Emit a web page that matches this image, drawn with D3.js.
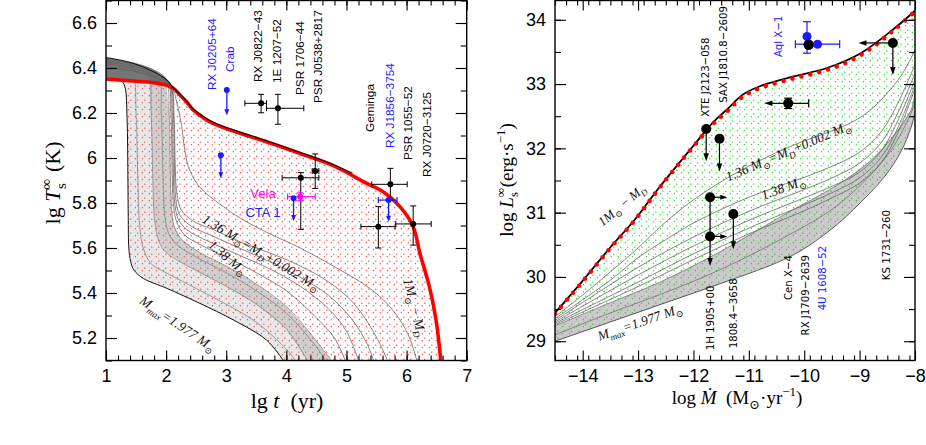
<!DOCTYPE html>
<html>
<head>
<meta charset="utf-8">
<script src="https://cdn.jsdelivr.net/npm/d3@7"></script>
<style>
  body { margin: 0; background: #fff; }
  svg { display: block; }
</style>
</head>
<body>
<svg id="fig" width="926" height="445"></svg>
<script>
// ---------------- Left panel: cooling curves (lg t, lg Ts) ----------------
const redL = [[1.0,6.351],[1.45,6.342],[1.78,6.335],[2.0,6.324],[2.12,6.31],[2.23,6.28],[2.34,6.25],[2.45,6.213],
  [2.56,6.191],[2.67,6.169],[2.84,6.147],[3.12,6.12],[3.67,6.072],[4.22,6.021],[4.78,5.966],[5.33,5.888],
  [5.61,5.85],[5.89,5.784],[6.11,5.695],[6.22,5.578],[6.38,5.427],[6.49,5.28],[6.57,5.10]];
const topEnvL = [[1.0,6.447],[1.45,6.421],[1.79,6.384],[2.01,6.347],[2.12,6.313],[2.3,6.265],[2.45,6.218],
  [2.6,6.188],[2.84,6.152],[3.12,6.125],[3.67,6.077],[4.22,6.026],[4.78,5.971],[5.1,5.932]];
const mmaxL = [[1,6.352],[1.2,6.352],[1.27,6.34],[1.32,6.31],[1.35,6.18],[1.365,5.89],[1.37,5.74],[1.38,5.60],
  [1.41,5.54],[1.47,5.50],[1.62,5.465],[2.01,5.421],[2.56,5.354],[3.12,5.28],[3.67,5.191],[3.95,5.10]];
const b2L = [[1,6.40],[1.3,6.39],[1.45,6.36],[1.5,6.2],[1.53,5.9],[1.56,5.70],[1.62,5.60],[1.75,5.53],[2.0,5.49],
  [2.5,5.42],[3.0,5.35],[3.5,5.27],[4.0,5.15],[4.15,5.10]];
const b3L = [[1,6.42],[1.5,6.40],[1.7,6.37],[1.75,6.2],[1.78,5.9],[1.81,5.72],[1.88,5.63],[2.0,5.58],[2.5,5.50],
  [3.0,5.43],[3.5,5.35],[4.0,5.24],[4.35,5.10]];
const b4L = [[1,6.43],[1.6,6.41],[1.87,6.37],[1.92,6.2],[1.95,5.9],[1.98,5.74],[2.05,5.66],[2.2,5.61],[2.5,5.56],
  [3.0,5.49],[3.5,5.41],[4.0,5.31],[4.5,5.16],[4.65,5.10]];
const bundleRL = [[1,6.44],[1.5,6.42],[1.8,6.39],[2.0,6.35],[2.05,6.2],[2.07,5.95],[2.09,5.78],[2.13,5.70],
  [2.25,5.64],[2.56,5.58],[3.0,5.52],[3.5,5.44],[4.0,5.34],[4.4,5.22],[4.75,5.10]];
const l5L = [[1,6.44],[1.8,6.39],[2.03,6.34],[2.08,6.2],[2.1,5.95],[2.12,5.80],[2.17,5.72],[2.3,5.66],[2.6,5.61],
  [3.0,5.56],[3.5,5.49],[4.0,5.41],[4.5,5.29],[4.8,5.2],[4.98,5.10]];
const l4L = [[1,6.43],[1.8,6.38],[2.05,6.33],[2.1,6.2],[2.12,5.95],[2.14,5.81],[2.2,5.73],[2.35,5.68],[2.7,5.63],
  [3.2,5.57],[3.7,5.51],[4.23,5.43],[4.7,5.33],[5.0,5.23],[5.2,5.10]];
const l3L = [[1,6.42],[1.8,6.37],[2.07,6.32],[2.12,6.2],[2.14,5.95],[2.16,5.82],[2.22,5.75],[2.4,5.70],[2.8,5.65],
  [3.3,5.59],[3.8,5.53],[4.23,5.47],[4.7,5.39],[5.1,5.28],[5.35,5.17],[5.45,5.10]];
const c138L = [[1,6.41],[1.8,6.36],[2.08,6.31],[2.13,6.2],[2.15,5.98],[2.18,5.84],[2.25,5.77],[2.45,5.72],
  [2.8,5.68],[3.3,5.62],[3.8,5.57],[4.23,5.52],[4.7,5.45],[5.1,5.36],[5.4,5.25],[5.6,5.15],[5.68,5.10]];
const c136L = [[1,6.40],[1.5,6.385],[1.8,6.36],[2.0,6.335],[2.12,6.30],[2.18,6.243],[2.26,6.139],[2.31,6.036],
  [2.37,5.961],[2.51,5.888],[2.68,5.84],[2.95,5.784],[3.25,5.73],[3.67,5.67],[4.23,5.60],[4.78,5.52],
  [5.34,5.43],[5.65,5.36],[5.89,5.28],[6.05,5.2],[6.17,5.1]];

// observed sources: [lg t, lo, hi, lg T, lo, hi]
const blackL = [[3.58,3.31,3.67,6.243,6.201,6.283],[3.86,3.67,4.29,6.221,6.150,6.283],
  [4.24,3.93,4.54,5.912,5.683,5.935],[4.48,4.43,4.54,5.942,5.865,6.018],[5.73,5.42,6.01,5.883,5.813,5.954],
  [5.53,5.24,5.81,5.695,5.600,5.784],[6.11,5.82,6.41,5.707,5.613,5.787]];
// upper limits: [lg t, lg T, arrow end]
const limitsL = [[3.01,6.302,6.19],[2.91,6.012,5.91],[4.12,5.821,5.72]];
const rxj1856 = [5.70,5.53,5.84,5.813,5.717];
const velaPt = [4.23,4.02,4.48,5.828,5.81,5.845];

const srcNamesL = ["RX J0205+64","Crab","RX J0822\u221243","1E 1207\u221252","PSR 1706\u221244","PSR J0538+2817",
  "Geminga","RX J1856\u22123754","PSR 1055\u221252","RX J0720\u22123125"];

// ---------------- Right panel: heating curves (log Mdot, log Ls) ----------------
const topR = [[-14.5,29.43],[-13.99,29.94],[-13.51,30.44],[-13.08,30.86],[-12.6,31.40],[-12.0,32.03],[-11.64,32.39],
  [-11.4,32.57],[-11.1,32.81],[-10.79,32.94],[-10.19,33.09],[-9.59,33.22],[-8.98,33.45],[-8.38,33.84],[-8.0,34.13]];
const upperR = [[-14.5,29.44],[-13.99,29.95],[-13.51,30.45],[-13.08,30.87],[-12.6,31.41],[-12.0,32.04],
  [-11.64,32.41],[-11.4,32.6],[-11.1,32.84],[-10.79,32.97],[-10.19,33.12],[-9.59,33.25],[-8.98,33.48],
  [-8.38,33.86],[-8.0,34.14]];
const c136R = [[-14.5,29.38],[-14,29.72],[-13.5,30.08],[-13,30.45],[-12.6,30.78],[-12,31.2],[-11.1,31.68],
  [-10.19,32.05],[-9.2,32.38],[-8.8,32.6],[-8.44,32.92],[-8.2,33.2],[-8,33.53]];
const c138R = [[-14.5,29.35],[-13.5,29.95],[-13,30.3],[-12.5,30.58],[-12,30.84],[-11.5,31.05],[-11,31.24],
  [-10.5,31.4],[-10,31.55],[-9.5,31.72],[-9,31.94],[-8.6,32.27],[-8.3,32.72],[-8,33.3]];
const l3R = [[-14.5,29.32],[-13,30.15],[-12,30.62],[-11,31.02],[-10,31.36],[-9.5,31.54],[-9,31.77],[-8.6,32.1],
  [-8.3,32.57],[-8,33.17]];
const l4R = [[-14.5,29.3],[-13,30.03],[-12,30.48],[-11,30.88],[-10,31.23],[-9.5,31.41],[-9,31.63],[-8.6,31.97],
  [-8.3,32.45],[-8,33.07]];
const l5R = [[-14.5,29.28],[-13,29.92],[-12,30.36],[-11,30.76],[-10,31.12],[-9.5,31.31],[-9,31.54],[-8.6,31.87],
  [-8.3,32.34],[-8,32.99]];
const l6R = [[-14.5,29.26],[-13,29.85],[-12,30.27],[-11,30.67],[-10,31.03],[-9.5,31.23],[-9,31.46],[-8.6,31.79],
  [-8.3,32.26],[-8,32.93]];
const bundleTopR = [[-14.5,29.24],[-13.5,29.6],[-12.6,29.92],[-11.5,30.4],[-10.34,30.98],[-9.42,31.42],
  [-8.81,31.8],[-8.38,32.2],[-8.07,32.6],[-8.0,32.85]];
const bundleMidR = [[-14.5,29.1],[-13.5,29.44],[-12.5,29.76],[-11.5,30.12],[-10.5,30.55],[-9.5,31.05],
  [-8.9,31.5],[-8.45,31.95],[-8.15,32.4],[-8.0,32.7]];
const mmaxR = [[-14.5,29.0],[-13.5,29.3],[-12.5,29.6],[-11.5,29.9],[-10.5,30.22],[-10.04,30.42],[-9.5,30.75],
  [-9.11,31.05],[-8.56,31.55],[-8.26,31.94],[-8.07,32.33],[-8.0,32.55]];

// transients: black points [log Mdot, log L]
const blackR = [[-9.92,33.61],[-8.40,33.64],[-10.29,32.70],[-11.77,32.30],[-11.53,32.15],[-11.70,31.24],
  [-11.70,30.63],[-11.28,30.98]];
const downArrowsR = [[-8.40,33.64,33.14],[-11.77,32.30,31.80],[-11.53,32.15,31.64],[-11.70,30.63,30.17],
  [-11.28,30.98,30.43]];
const leftArrowsR = [[-8.40,33.64,-9.02],[-10.29,32.70,-10.72]];
const rightArrowsR = [[-11.70,31.24,-11.39],[-11.70,30.63,-11.39]];
const aqlBlue = [[-9.95,33.74,33.48,33.97],[-9.76,33.62,-10.16,-9.36]];
const srcNamesR = ["XTE J2123\u2212058","SAX J1810.8\u22122609","Aql X\u22121","1H 1905+00","1808.4\u22123658",
  "Cen X\u22124","RX J1709\u22122639","4U 1608\u221252","KS 1731\u2212260"];

// tick labels
const xTicksL = [1,2,3,4,5,6,7];
const yTicksL = [5.2,5.4,5.6,5.8,6,6.2,6.4,6.6];
const xTicksR = [-14,-13,-12,-11,-10,-9,-8];
const yTicksR = [29,30,31,32,33,34];

// ---------------- drawing ----------------
const svg = d3.select("#fig");
svg.append("rect").attr("width", 926).attr("height", 445).attr("fill", "#fff");
const defs = svg.append("defs");

const xL = d3.scaleLinear().domain([1, 7]).range([106, 466.7]);
const yL = d3.scaleLinear().domain([5.1, 6.7]).range([360.5, 0.5]);
const xR = d3.scaleLinear().domain([-14.5, -8]).range([555, 915]);
const yR = d3.scaleLinear().domain([28.7, 34.3]).range([360.5, 0.5]);

function clip(id, x, y) {
  defs.append("clipPath").attr("id", id).append("rect")
    .attr("x", x.range()[0]).attr("y", y.range()[1])
    .attr("width", x.range()[1] - x.range()[0]).attr("height", y.range()[0] - y.range()[1]);
}
clip("clipL", xL, yL);
clip("clipR", xR, yR);

// dotted diagonal hatch
function hatch(id, color) {
  const p = defs.append("pattern").attr("id", id).attr("patternUnits", "userSpaceOnUse")
    .attr("width", 7).attr("height", 7);
  p.append("path").attr("d", "M-0.5,7.5 L7.5,-0.5").attr("stroke", color)
    .attr("stroke-width", 1.2).attr("stroke-dasharray", "1.1,2.4").attr("fill", "none");
}
hatch("hatchRed", "#ff3b3b");
hatch("hatchGreen", "#1ed81e");

const lineFn = (x, y) => d3.line().x(d => x(d[0])).y(d => y(d[1])).curve(d3.curveCatmullRom.alpha(0.5));
const polyFn = (x, y) => d3.line().x(d => x(d[0])).y(d => y(d[1])).curve(d3.curveLinearClosed);

const gL = svg.append("g").attr("clip-path", "url(#clipL)");
const gR = svg.append("g").attr("clip-path", "url(#clipR)");
const lnL = lineFn(xL, yL), lnR = lineFn(xR, yR);

// left: hatch region between the 1 Msun - M_D curve and the M_max curve
gL.append("path").attr("d", polyFn(xL, yL)(redL.concat(mmaxL.slice().reverse())))
  .attr("fill", "url(#hatchRed)");
// dense bundle of cooling curves
gL.append("path").attr("d", polyFn(xL, yL)(mmaxL.concat(bundleRL.slice().reverse())))
  .attr("fill", "#8a8a8a").attr("fill-opacity", 0.2);
gL.append("path").attr("d", polyFn(xL, yL)(b3L.concat(bundleRL.slice().reverse())))
  .attr("fill", "#777").attr("fill-opacity", 0.22);
// top black bundle before the drop
gL.append("path").attr("d", polyFn(xL, yL)(topEnvL.filter(d => d[0] <= 2.12)
    .concat(redL.filter(d => d[0] <= 2.12).reverse())))
  .attr("fill", "#444").attr("fill-opacity", 0.7);

[b2L, b3L, b4L, bundleRL].forEach(c => gL.append("path").attr("d", lnL(c))
  .attr("fill", "none").attr("stroke", "#777").attr("stroke-width", 0.7));
[l5L, l4L, l3L, c138L, c136L].forEach(c => gL.append("path").attr("d", lnL(c))
  .attr("fill", "none").attr("stroke", "#666").attr("stroke-width", 0.8));
gL.append("path").attr("d", lnL(mmaxL)).attr("fill", "none").attr("stroke", "#111").attr("stroke-width", 1);
gL.append("path").attr("d", lnL(redL)).attr("fill", "none").attr("stroke", "#f00").attr("stroke-width", 3.6);
gL.append("path").attr("d", lnL(topEnvL)).attr("fill", "none").attr("stroke", "#111").attr("stroke-width", 1.1);

// right: hatch region and bundle
gR.append("path").attr("d", polyFn(xR, yR)(topR.concat(mmaxR.slice().reverse())))
  .attr("fill", "url(#hatchGreen)");
gR.append("path").attr("d", polyFn(xR, yR)(bundleTopR.concat(mmaxR.slice().reverse())))
  .attr("fill", "#7a7a7a").attr("fill-opacity", 0.4);
[bundleMidR, bundleTopR].forEach(c => gR.append("path").attr("d", lnR(c))
  .attr("fill", "none").attr("stroke", "#666").attr("stroke-width", 0.7));
[l6R, l5R, l4R, l3R, c138R, c136R].forEach(c => gR.append("path").attr("d", lnR(c))
  .attr("fill", "none").attr("stroke", "#666").attr("stroke-width", 0.8));
gR.append("path").attr("d", lnR(mmaxR)).attr("fill", "none").attr("stroke", "#444").attr("stroke-width", 0.9);
gR.append("path").attr("d", lnR(upperR)).attr("fill", "none").attr("stroke", "#000").attr("stroke-width", 1.8);
gR.append("path").attr("d", lnR(topR)).attr("fill", "none").attr("stroke", "#f00")
  .attr("stroke-width", 4.6).attr("stroke-linecap", "round").attr("stroke-dasharray", "0,9.2");

// ---------------- text helpers ----------------
function rich(sel, parts, size) {
  let shift = 0;
  parts.forEach(p => {
    const [s, mode, dx] = p;
    const ts = sel.append("tspan").text(s);
    let target = 0;
    if (mode === "sup") target = -0.42 * size;
    if (mode === "sub") target = 0.28 * size;
    if (target - shift !== 0) ts.attr("dy", target - shift);
    shift = target;
    if (mode === "sup" || mode === "sub") ts.attr("font-size", size * 0.68);
    if (mode === "i") ts.attr("font-style", "italic");
    if (dx) ts.attr("dx", dx);
  });
}
const serif = "'Liberation Serif','DejaVu Serif',serif";
const sans = "'Liberation Sans','DejaVu Sans',sans-serif";
const narrow = "'Liberation Sans Narrow','DejaVu Sans Condensed','Liberation Sans',sans-serif";

function vlabel(g, px, py, txt, color, family, size) {
  g.append("text").attr("transform", `translate(${px},${py}) rotate(-90)`)
    .attr("dy", "0.35em").attr("font-family", family).attr("font-size", size)
    .attr("fill", color).text(txt);
}
function curveLabel(px, py, ang, parts, size) {
  const t = svg.append("text").attr("transform", `translate(${px},${py}) rotate(${ang})`)
    .attr("text-anchor", "middle").attr("dy", "0.35em").attr("font-family", serif)
    .attr("font-style", "italic").attr("font-size", size).attr("fill", "#111");
  rich(t, parts, size);
}

// ---------------- left labels ----------------
const labAnchorsL = [[2.764,6.302,"#1a1aff"],[3.063,6.382,"#1a1aff"],[3.529,6.338,"#000"],[3.845,6.333,"#000"],
  [4.228,6.28,"#000"],[4.527,6.244,"#000"],[5.393,6.116,"#000"],[5.725,6.044,"#1a1aff"],[6.025,5.991,"#000"],
  [6.341,5.916,"#000"]];
srcNamesL.forEach((n, i) => vlabel(svg, xL(labAnchorsL[i][0]), yL(labAnchorsL[i][1]), n, labAnchorsL[i][2], sans, 11.8));
svg.append("text").attr("x", xL(3.612)).attr("y", yL(5.844)).attr("dy", "0.35em").attr("text-anchor", "middle")
  .attr("font-family", sans).attr("font-size", 13).attr("fill", "#ff00ff").text("Vela");
svg.append("text").attr("x", xL(3.612)).attr("y", yL(5.76)).attr("dy", "0.35em").attr("text-anchor", "middle")
  .attr("font-family", sans).attr("font-size", 13).attr("fill", "#1a1aff").text("CTA 1");

curveLabel(xL(3.587), yL(5.58), 31, [["1.36 M"],["\u2299","sub"],["=M"],["D","sub"],["+0.002 M"],["\u2299","sub"]], 13.5);
curveLabel(xL(3.03), yL(5.558), 40, [["1.38 M"],["\u2299","sub"]], 13.5);
curveLabel(xL(2.198), yL(5.264), 34, [["M"],["max","sub"],["=1.977 M"],["\u2299","sub"]], 13.5);
curveLabel(xL(6.141), yL(5.336), 76, [["1M"],["\u2299","sub"],[" \u2212 M"],["D","sub"]], 13.5);

// ---------------- left points ----------------
function arrowHead(g, x1, y1, x2, y2, color, len, w) {
  const a = Math.atan2(y2 - y1, x2 - x1);
  const bx = x2 - len * Math.cos(a), by = y2 - len * Math.sin(a);
  const nx = -Math.sin(a) * w / 2, ny = Math.cos(a) * w / 2;
  g.append("path").attr("d", `M${x2},${y2}L${bx + nx},${by + ny}L${bx - nx},${by - ny}Z`).attr("fill", color);
}
function arrow(g, x1, y1, x2, y2, color, len, w, sw) {
  const a = Math.atan2(y2 - y1, x2 - x1);
  g.append("line").attr("x1", x1).attr("y1", y1)
    .attr("x2", x2 - len * 0.7 * Math.cos(a)).attr("y2", y2 - len * 0.7 * Math.sin(a))
    .attr("stroke", color).attr("stroke-width", sw);
  arrowHead(g, x1, y1, x2, y2, color, len, w);
}
function errBar(g, x0, y0, x1, y1, color, cap, sw, vertical) {
  g.append("line").attr("x1", x0).attr("y1", y0).attr("x2", x1).attr("y2", y1).attr("stroke", color).attr("stroke-width", sw);
  [[x0, y0], [x1, y1]].forEach(([x, y]) => {
    if (vertical) g.append("line").attr("x1", x - cap).attr("x2", x + cap).attr("y1", y).attr("y2", y)
      .attr("stroke", color).attr("stroke-width", sw);
    else g.append("line").attr("x1", x).attr("x2", x).attr("y1", y - cap).attr("y2", y + cap)
      .attr("stroke", color).attr("stroke-width", sw);
  });
}
const pts = svg.append("g");
blackL.forEach(d => {
  errBar(pts, xL(d[1]), yL(d[3]), xL(d[2]), yL(d[3]), "#000", 3, 1, false);
  errBar(pts, xL(d[0]), yL(d[4]), xL(d[0]), yL(d[5]), "#000", 3, 1, true);
  pts.append("circle").attr("cx", xL(d[0])).attr("cy", yL(d[3])).attr("r", 3).attr("fill", "#000");
});
errBar(pts, xL(velaPt[1]), yL(velaPt[3]), xL(velaPt[2]), yL(velaPt[3]), "#ff00ff", 3, 1.2, false);
errBar(pts, xL(velaPt[0]), yL(velaPt[4]), xL(velaPt[0]), yL(velaPt[5]), "#ff00ff", 3, 1.2, true);
pts.append("circle").attr("cx", xL(velaPt[0])).attr("cy", yL(velaPt[3])).attr("r", 3).attr("fill", "#ff00ff");
limitsL.forEach(d => {
  arrow(pts, xL(d[0]), yL(d[1]), xL(d[0]), yL(d[2]), "#1a1aff", 6, 5, 1.3);
  pts.append("circle").attr("cx", xL(d[0])).attr("cy", yL(d[1])).attr("r", 3).attr("fill", "#1a1aff");
});
errBar(pts, xL(rxj1856[1]), yL(rxj1856[3]), xL(rxj1856[2]), yL(rxj1856[3]), "#1a1aff", 3, 1.2, false);
arrow(pts, xL(rxj1856[0]), yL(rxj1856[3]), xL(rxj1856[0]), yL(rxj1856[4]), "#1a1aff", 6, 5, 1.3);
pts.append("circle").attr("cx", xL(rxj1856[0])).attr("cy", yL(rxj1856[3])).attr("r", 3).attr("fill", "#1a1aff");

// ---------------- right labels ----------------
const labAnchorsR = [[-11.79,32.49,"#000"],[-11.46,32.71,"#000"],[-10.47,33.42,"#1a1aff"],[-11.70,28.86,"#000"],
  [-11.28,28.89,"#000"],[-10.29,29.64,"#000"],[-9.98,29.09,"#000"],[-9.67,29.48,"#1a1aff"],[-8.53,29.95,"#000"]];
srcNamesR.forEach((n, i) => vlabel(svg, xR(labAnchorsR[i][0]), yR(labAnchorsR[i][1]), n, labAnchorsR[i][2], narrow, 11.3));

curveLabel(xR(-10.29), yR(31.96), -23, [["1.36 M"],["\u2299","sub"],["=M"],["D","sub"],["+0.002 M"],["\u2299","sub"]], 13.5);
curveLabel(xR(-10.38), yR(31.39), -20, [["1.38 M"],["\u2299","sub"]], 13.5);
curveLabel(xR(-12.97), yR(29.3), -19, [["M"],["max","sub"],["=1.977 M"],["\u2299","sub"]], 13.5);
curveLabel(xR(-13.3), yR(31.12), -40, [["1M"],["\u2299","sub"],[" \u2212 M"],["D","sub"]], 13);

// ---------------- right points ----------------
downArrowsR.forEach(d => arrow(pts, xR(d[0]), yR(d[1]), xR(d[0]), yR(d[2]), "#000", 8, 5.5, 1.2));
leftArrowsR.forEach(d => arrow(pts, xR(d[0]), yR(d[1]), xR(d[2]), yR(d[1]), "#000", 8, 5.5, 1.2));
rightArrowsR.forEach(d => arrow(pts, xR(d[0]), yR(d[1]), xR(d[2]), yR(d[1]), "#000", 7, 5, 1.2));
pts.append("line").attr("x1", xR(blackR[5][0])).attr("x2", xR(blackR[6][0]))
  .attr("y1", yR(blackR[5][1])).attr("y2", yR(blackR[6][1])).attr("stroke", "#000").attr("stroke-width", 1.2);
errBar(pts, xR(-10.29), yR(32.70), xR(-9.92), yR(32.70), "#000", 4, 1.2, false);
errBar(pts, xR(-10.29), yR(32.62), xR(-10.29), yR(32.78), "#000", 4, 1.2, true);
errBar(pts, xR(aqlBlue[0][0]), yR(aqlBlue[0][2]), xR(aqlBlue[0][0]), yR(aqlBlue[0][3]), "#1a1aff", 4, 1.2, true);
errBar(pts, xR(aqlBlue[1][2]), yR(aqlBlue[1][1]), xR(aqlBlue[1][3]), yR(aqlBlue[1][1]), "#1a1aff", 4, 1.2, false);
blackR.forEach(d => pts.append("circle").attr("cx", xR(d[0])).attr("cy", yR(d[1])).attr("r", 5).attr("fill", "#000"));
aqlBlue.forEach(d => pts.append("circle").attr("cx", xR(d[0])).attr("cy", yR(d[1])).attr("r", 4.5).attr("fill", "#1a1aff"));
// black Aql X-1 point drawn over blue marker as in the figure
pts.append("circle").attr("cx", xR(blackR[0][0])).attr("cy", yR(blackR[0][1])).attr("r", 5).attr("fill", "#000");

// ---------------- axes and frames ----------------
function axes(x, y, xMajor, yMajor, xStep, yStep, xFmt, yFmt) {
  const [xa, xb] = x.range(), [ya, yb] = y.range();
  const xMinor = d3.range(x.domain()[0], x.domain()[1] + 1e-9, xStep);
  const yMinor = d3.range(Math.ceil(y.domain()[0] / yStep - 1e-9) * yStep, y.domain()[1] + 1e-9, yStep);
  const g = svg.append("g").attr("font-family", sans);
  const add = (axis, tr) => g.append("g").attr("transform", tr).call(axis);
  add(d3.axisBottom(x).tickValues(xMinor).tickSize(-5).tickFormat(""), `translate(0,${ya})`);
  add(d3.axisBottom(x).tickValues(xMajor).tickSize(-10).tickPadding(9).tickFormat(xFmt), `translate(0,${ya})`);
  add(d3.axisTop(x).tickValues(xMinor).tickSize(-5).tickFormat(""), `translate(0,${yb})`);
  add(d3.axisTop(x).tickValues(xMajor).tickSize(-10).tickFormat(""), `translate(0,${yb})`);
  add(d3.axisLeft(y).tickValues(yMinor).tickSize(-6).tickFormat(""), `translate(${xa},0)`);
  add(d3.axisLeft(y).tickValues(yMajor).tickSize(-11).tickPadding(9).tickFormat(yFmt), `translate(${xa},0)`);
  add(d3.axisRight(y).tickValues(yMinor).tickSize(-6).tickFormat(""), `translate(${xb},0)`);
  add(d3.axisRight(y).tickValues(yMajor).tickSize(-11).tickFormat(""), `translate(${xb},0)`);
  g.selectAll(".domain").remove();
  g.selectAll(".tick line").attr("stroke", "#000").attr("stroke-width", 1.1);
  g.selectAll("text").attr("font-size", 18).attr("fill", "#000").attr("font-family", sans);
  svg.append("rect").attr("x", xa).attr("y", yb).attr("width", xb - xa).attr("height", ya - yb)
    .attr("fill", "none").attr("stroke", "#000").attr("stroke-width", 1.4);
}
axes(xL, yL, xTicksL, yTicksL, 0.2, 0.1, d3.format("~g"), d3.format("~g"));
axes(xR, yR, xTicksR, yTicksR, 0.2, 0.5, d => "\u2212" + Math.abs(d), d3.format("d"));

// axis titles
let t = svg.append("text").attr("x", 287).attr("y", 408).attr("text-anchor", "middle")
  .attr("font-family", serif).attr("font-size", 22);
rich(t, [["lg "], ["t", "i"], ["\u2002(yr)"]], 22);
t = svg.append("text").attr("transform", "translate(60,183) rotate(-90)").attr("text-anchor", "middle")
  .attr("font-family", serif).attr("font-size", 22);
rich(t, [["lg "], ["T", "i"], ["\u221e", "sup"], ["s", "sub", -10], ["\u2002(K)"]], 22);
t = svg.append("text").attr("x", 737).attr("y", 404).attr("text-anchor", "middle")
  .attr("font-family", serif).attr("font-size", 19);
rich(t, [["log "], ["\u1e40", "i"], ["\u2002(M"], ["\u2299", "sub"], ["\u00b7yr"], ["\u22121", "sup"], [")"]], 19);
t = svg.append("text").attr("transform", "translate(513,180) rotate(-90)").attr("text-anchor", "middle")
  .attr("font-family", serif).attr("font-size", 19);
rich(t, [["log "], ["L", "i"], ["\u221e", "sup"], ["s", "sub", -9], [" (erg\u00b7s"], ["\u22121", "sup"], [")"]], 19);
</script>
</body>
</html>
